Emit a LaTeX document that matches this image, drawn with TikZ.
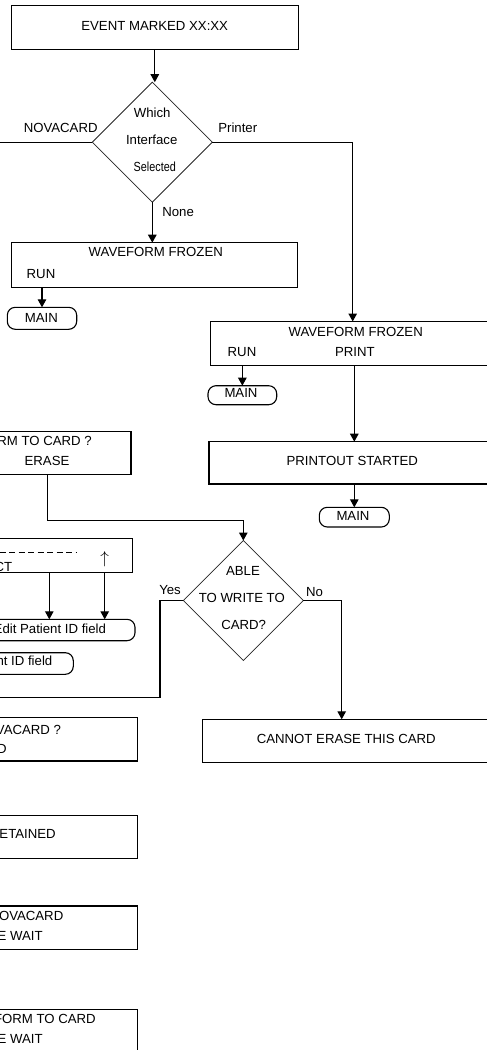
\documentclass[tikz,border=0pt]{standalone}
\usepackage{fontspec}
\usepackage{graphicx}
\setmainfont{Liberation Sans}
\usetikzlibrary{arrows.meta,shapes.geometric}
\begin{document}
\begin{tikzpicture}[x=1pt,y=-1pt,
  font=\fontsize{13.2pt}{15pt}\selectfont,
  every node/.style={inner sep=0pt, outer sep=0pt},
  box/.style={draw, line width=1.2pt, rectangle},
  term/.style={draw, line width=1.1pt, rectangle, rounded corners=8pt},
  decision/.style={draw=black!85, line width=0.75pt, diamond, minimum width=120pt, minimum height=120pt},
  txt/.style={text height=9.5pt, text depth=0pt},
  line/.style={line width=1.2pt},
  arr/.style={line, -{Triangle[length=8pt,width=8.5pt]}},
]
\useasboundingbox (0,0) rectangle (487,1050);
\clip (0,0) rectangle (487,1050);

% ---- boxes, terminals and decisions ----
\node[box, minimum width=287pt, minimum height=44pt] (ev) at (154.8,27.3) {};
\node[decision] (d1) at (152.3,142.2) {};
\node[box, minimum width=286.4pt, minimum height=45pt] (wf1) at (154.5,265.2) {};
\node[term, minimum width=69.4pt, minimum height=22pt] (main1) at (42,318.3) {};
\node[box, minimum width=329.3pt, minimum height=43.7pt] (wf2) at (375.35,343.35) {};
\node[term, minimum width=68.7pt, minimum height=19pt] (main2) at (242.35,395.2) {};
\node[box, minimum width=331pt, minimum height=42.3pt] (pr) at (374.5,462.85) {};
\node[term, minimum width=70pt, minimum height=19.7pt] (main3) at (354.3,517.15) {};
\node[box, minimum width=191pt, minimum height=42.6pt] (store) at (35.5,453) {};
\node[box, minimum width=192.3pt, minimum height=34.4pt] (idbox) at (36.15,555.5) {};
\node[term, minimum width=195pt, minimum height=21.4pt] (edit) at (37.5,630) {};
\node[term, minimum width=133.3pt, minimum height=21.6pt] (ntid) at (6.65,663.5) {};
\node[decision] (d2) at (243.3,600.5) {};
\node[box, minimum width=337.7pt, minimum height=43pt] (cannot) at (371.15,740.8) {};
\node[box, minimum width=197.3pt, minimum height=43.7pt] (b1) at (38.65,739.15) {};
\node[box, minimum width=197.3pt, minimum height=42.6pt] (b2) at (38.65,837) {};
\node[box, minimum width=197.3pt, minimum height=43.3pt] (b3) at (38.65,927.65) {};
\node[box, minimum width=197.3pt, minimum height=70.7pt] (b4) at (38.65,1044.65) {};

% ---- texts ----
\node[txt] (tev) at (154.7,25.7) {EVENT MARKED XX:XX};
\node[txt] (tq1) at (152.2,112.3) {Which};
\node[txt] (tq2) at (151.7,139.3) {Interface};
\node[txt] (tq3) at (154.8,166.7) {\scalebox{0.82}[1]{Selected}};
\node[txt] (lnova) at (60.7,127.3) {NOVACARD};
\node[txt, anchor=west] (lprinter) at (218.3,127.3) {Printer};
\node[txt, anchor=west] (lnone) at (162.3,212) {None};
\node[txt] (twf1) at (155.8,252.2) {WAVEFORM FROZEN};
\node[txt, anchor=west] (trun1) at (26.7,273.3) {RUN};
\node[txt] (tmain1) at (41.3,317.5) {MAIN};
\node[txt] (twf2) at (355.7,332) {WAVEFORM FROZEN};
\node[txt, anchor=west] (trun2) at (227.7,352) {RUN};
\node[txt, anchor=west] (tprint) at (335,352) {PRINT};
\node[txt] (tmain2) at (241,393) {MAIN};
\node[txt] (tpr) at (352.3,460.3) {PRINTOUT STARTED};
\node[txt] (tmain3) at (353,515.5) {MAIN};
\node[txt, anchor=east] (tstore) at (91.7,440.7) {RM TO CARD ?};
\node[txt] (terase) at (47,460.3) {ERASE};
\node[txt, anchor=east] (tct) at (12.3,566.7) {CT};
\node (uparr) at (104.7,559) {\fontsize{17pt}{17pt}\selectfont$\uparrow$};
\node[txt, anchor=east] (tedit) at (106,629) {Edit Patient ID field};
\node[txt, anchor=east] (tntid) at (52.3,661) {nt ID field};
\node[txt] (tq4) at (243,570.7) {ABLE};
\node[txt] (tq5) at (241.8,597.7) {TO WRITE TO};
\node[txt] (tq6) at (243.7,625) {CARD?};
\node[txt, anchor=west] (lyes) at (159.3,589.3) {Yes};
\node[txt, anchor=west] (lno) at (306,591.7) {No};
\node[txt] (tcannot) at (346.3,738.3) {CANNOT ERASE THIS CARD};
\node[txt, anchor=east] (tb1a) at (61,729.3) {VACARD ?};
\node[txt, anchor=east] (tb1b) at (6.7,748.3) {D};
\node[txt, anchor=east] (tb2) at (55.7,833.3) {ETAINED};
\node[txt, anchor=east] (tb3a) at (63.3,916) {OVACARD};
\node[txt, anchor=east] (tb3b) at (42.7,935.7) {E WAIT};
\node[txt, anchor=east] (tb4a) at (95.7,1018.3) {FORM TO CARD};
\node[txt, anchor=east] (tb4b) at (42.7,1039) {E WAIT};

% dashed entry field of the ID box
\coordinate (dashL) at (-0.5,552.7);
\coordinate (dashR) at (76,552.7);
\draw[line width=0.8pt, dash pattern=on 6pt off 3.5pt] (dashL) -- (dashR);

% ---- connectors ----
\coordinate (novaout) at (0,142.2);
\coordinate (prin) at (352.7,321.5);
\coordinate (erasebend) at (47.7,520.7);
\coordinate (idx) at (49.3,0);
\coordinate (yesout) at (0,697.7);
\coordinate (noin) at (341.7,719.3);

\draw[arr] (ev.south) -- (ev.south |- d1.north);
\draw[line] (d1.west) -- (novaout);
\draw[arr] (d1.east) -| (prin);
\draw[arr] (d1.south) -- (d1.south |- wf1.north);
\draw[arr] (main1.north |- wf1.south) -- (main1.north);
\draw[arr] (main2.north |- wf2.south) -- (main2.north);
\draw[arr] (main3.north |- wf2.south) -- (main3.north |- pr.north);
\draw[arr] (main3.north |- pr.south) -- (main3.north);
\draw[arr] (erasebend |- store.south) -- (erasebend) -| (d2.north);
\draw[arr] (idx |- idbox.south) -- (idx |- edit.north);
\draw[arr] (uparr |- idbox.south) -- (uparr |- edit.north);
\draw[line] (d2.west) -- ++(-23.4,0) |- (yesout);
\draw[arr] (d2.east) -| (noin);
\end{tikzpicture}
\end{document}
